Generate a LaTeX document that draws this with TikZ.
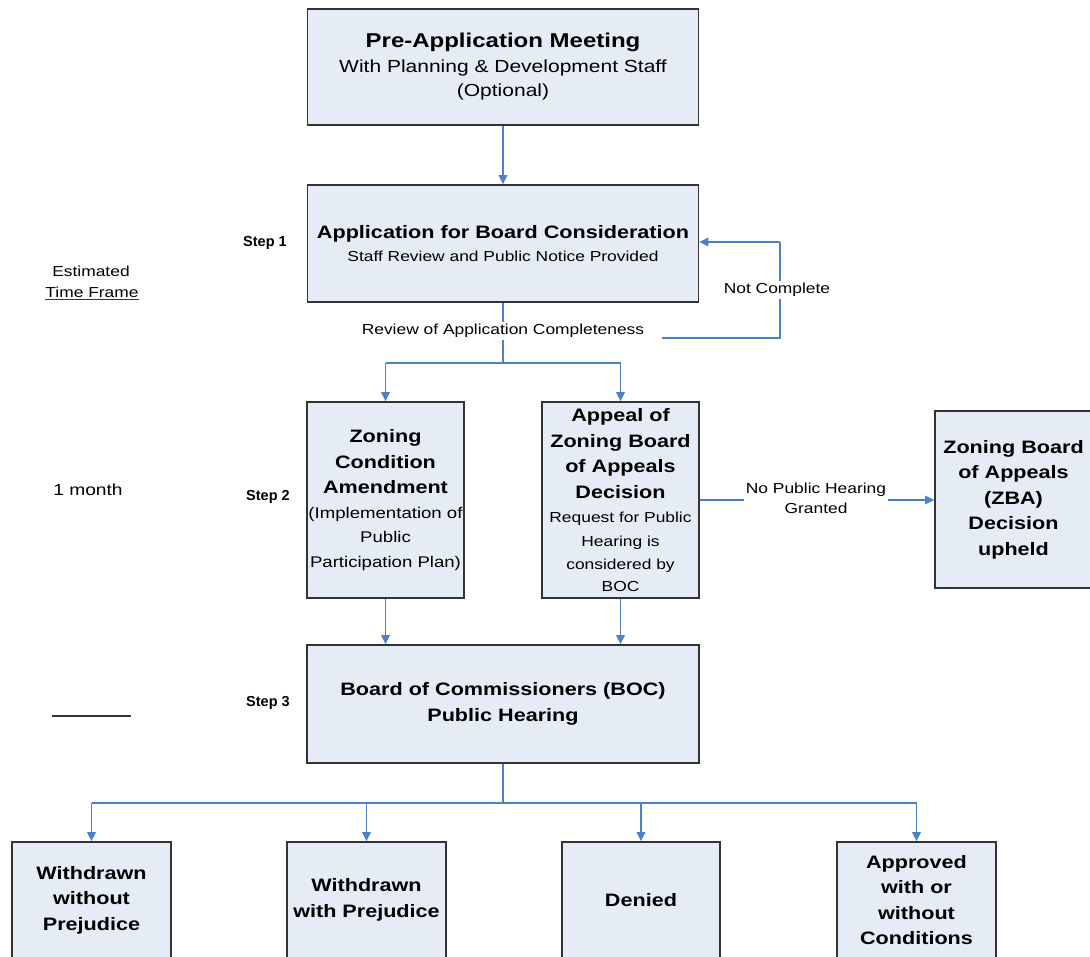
\documentclass[tikz,border=0pt]{standalone}
\usepackage{fontspec}
\setmainfont[FakeStretch=1.2]{Liberation Sans}
\newfontfamily\plainsf{Liberation Sans}
\usetikzlibrary{arrows.meta}
\definecolor{boxfill}{HTML}{E6ECF5}
\definecolor{linkblue}{HTML}{4F7FC4}
\definecolor{edgegray}{HTML}{333333}
\newcommand{\bxf}{\fontsize{18}{25.5}\selectfont\bfseries}
\newcommand{\lblf}{\fontsize{14.5}{20}\selectfont}
\begin{document}
\begin{tikzpicture}[x=1pt,y=-1pt,
  box/.style={draw=edgegray, line width=1.6pt, fill=boxfill, inner sep=0pt, align=center, anchor=center, font=\bxf},
  conn/.style={draw=linkblue, line width=1.4pt},
  arr/.style={conn, -{Triangle[length=9pt,width=8.5pt]}},
  lbl/.style={fill=white, inner sep=2pt, align=center, font=\lblf},
  side/.style={inner sep=0pt, align=center, font=\lblf},
  steplbl/.style={inner sep=0pt, font=\plainsf\fontsize{14.5}{17}\selectfont\bfseries}]
\clip (0,0) rectangle (1090,957);
\fill[white] (0,0) rectangle (1090,957);

% boxes
\node[box, minimum width=391pt, minimum height=116pt] (pre) at (503,67)
  {{\fontsize{20}{25}\selectfont Pre-Application Meeting}\\[-1pt]
   {\fontsize{17.5}{25}\selectfont\mdseries With Planning \& Development Staff}\\[-1pt]
   {\fontsize{17.5}{25}\selectfont\mdseries (Optional)}};
\node[box, minimum width=391pt, minimum height=117pt] (app) at (503,243.5)
  {Application for Board Consideration\\[-2pt]
   {\fontsize{14.5}{20}\selectfont\mdseries Staff Review and Public Notice Provided}};
\node[box, minimum width=157pt, minimum height=196pt] (zca) at (385.5,500)
  {Zoning\\Condition\\Amendment\\[-1pt]
   {\fontsize{15.5}{20}\selectfont\mdseries (Implementation of}\\[-1pt]
   {\fontsize{15.5}{20}\selectfont\mdseries Public}\\[-1pt]
   {\fontsize{15.5}{20}\selectfont\mdseries Participation Plan)}};
\node[box, minimum width=157pt, minimum height=196pt] (apl) at (620.5,500)
  {Appeal of\\Zoning Board\\of Appeals\\Decision\\[-1pt]
   {\fontsize{14.5}{20}\selectfont\mdseries Request for Public}\\[-2pt]
   {\fontsize{14.5}{20}\selectfont\mdseries Hearing is}\\[-2pt]
   {\fontsize{14.5}{20}\selectfont\mdseries considered by}\\[-4pt]
   {\fontsize{14.5}{20}\selectfont\mdseries BOC}};
\node[box, minimum width=157pt, minimum height=177pt] (zba) at (1013.5,499.5)
  {Zoning Board\\of Appeals\\(ZBA)\\Decision\\upheld};
\node[box, minimum width=392pt, minimum height=118pt] (boc) at (503,704)
  {Board of Commissioners (BOC)\\Public Hearing};
\node[box, minimum width=159pt, minimum height=116pt] (wwo) at (91.5,900)
  {Withdrawn\\without\\Prejudice};
\node[box, minimum width=159pt, minimum height=116pt] (wwp) at (366.5,900)
  {Withdrawn\\with Prejudice};
\node[box, minimum width=158pt, minimum height=116pt] (den) at (641,900)
  {Denied};
\node[box, minimum width=159pt, minimum height=116pt] (apr) at (916.5,900)
  {Approved\\with or\\without\\Conditions};

% side texts
\node[steplbl] (s1) at (265,243) {Step 1};
\node[steplbl] (s2) at (268,497) {Step 2};
\node[steplbl] (s3) at (268,703) {Step 3};
\node[side] (est) at (91,271) {Estimated};
\node[side] (tf) at (92,292) {Time Frame};
\draw[edgegray, line width=1.3pt] (tf.south west) ++(0,2) coordinate (ul1) -- (ul1 -| tf.south east);
\node[side, font=\fontsize{16}{18}\selectfont] (mon) at (88,490) {1 month};
\coordinate (bl1) at (52,716);
\coordinate (bl2) at (131,716);
\draw[edgegray, line width=1.3pt] (bl1) -- (bl2);

% connectors
\draw[arr] (pre.south) -- (app.north);
\coordinate (split) at (503,363);
\node[lbl] (rev) at (503,331) {Review of Application Completeness};
\draw[conn] (app.south) -- (rev.north);
\draw[conn] (rev.south) -- (split);
\coordinate (lc) at (385.5,363);
\coordinate (rc) at (620.5,363);
\draw[conn] (lc) -- (rc);
\draw[arr] (lc) -- (zca.north);
\draw[arr] (rc) -- (apl.north);
\coordinate (nc1) at (780,338);
\coordinate (nc2) at (780,242);
\coordinate (nc0) at (662,338);
\draw[conn] (nc0) -- (nc1) -- (nc2);
\draw[arr] (nc2) -- (app.east |- nc2);
\node[lbl] (ncl) at (777,290) {Not Complete};

\draw[arr] (zca.south) -- (zca.south |- boc.north);
\draw[arr] (apl.south) -- (apl.south |- boc.north);

\draw[arr] (apl.east) -- (zba.west |- apl.east);
\node[lbl] (nph) at (816,498) {No Public Hearing\\Granted};

\coordinate (bs) at (503,803);
\draw[conn] (boc.south) -- (bs);
\coordinate (b1) at (91.5,803);
\coordinate (b4) at (916.5,803);
\draw[conn] (b1) -- (b4);
\draw[arr] (b1) -- (wwo.north);
\draw[arr] (wwp.north |- bs) -- (wwp.north);
\draw[arr] (den.north |- bs) -- (den.north);
\draw[arr] (b4) -- (apr.north);
\end{tikzpicture}
\end{document}
